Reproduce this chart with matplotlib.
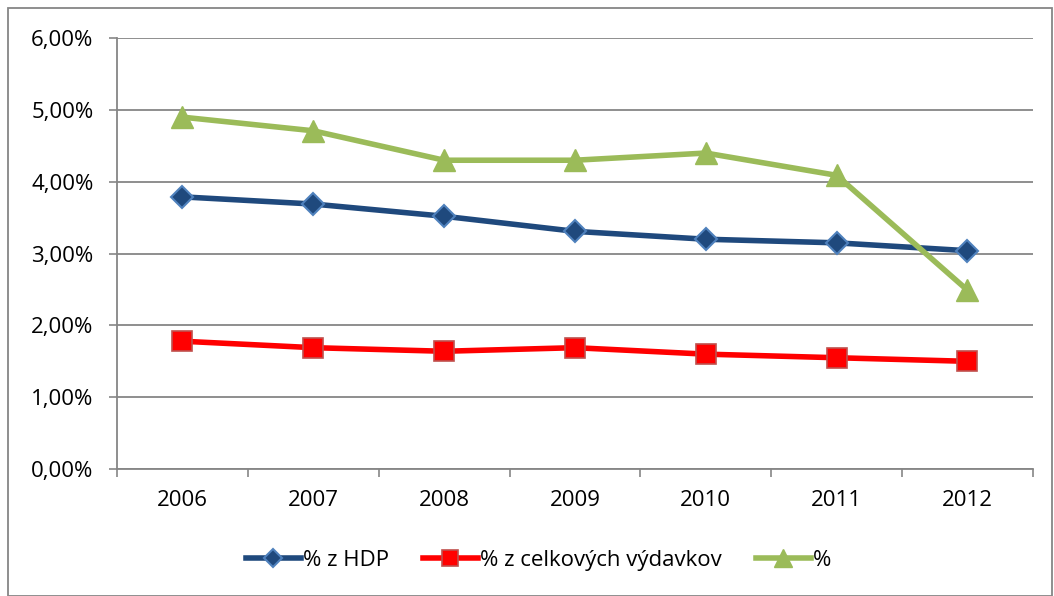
import matplotlib
matplotlib.use("Agg")
import matplotlib.pyplot as plt
from matplotlib.ticker import FuncFormatter, FixedLocator
import matplotlib.patches as mpatches

years = ["2006", "2007", "2008", "2009", "2010", "2011", "2012"]
hdp = [3.79, 3.69, 3.52, 3.31, 3.20, 3.15, 3.04]
vydavky = [1.78, 1.69, 1.64, 1.69, 1.60, 1.55, 1.50]
pct = [4.90, 4.71, 4.30, 4.30, 4.40, 4.09, 2.49]

plt.rcParams["font.family"] = ["Open Sans", "DejaVu Sans"]
FS = 16

fig = plt.figure(figsize=(10.54, 5.96), dpi=100)
ax = fig.add_axes([0.111, 0.213, 0.869, 0.723])

x = list(range(len(years)))
ax.plot(x, hdp, color="#1F497D", lw=4, marker="D", ms=11, mfc="#1F497D",
        mec="#4F81BD", mew=1.5, label="% z HDP", zorder=3)
ax.plot(x, vydavky, color="#FF0000", lw=4, marker="s", ms=15, mfc="#FF0000",
        mec="#C0504D", mew=1.2, label="% z celkových výdavkov", zorder=3)
ax.plot(x, pct, color="#9BBB59", lw=4, marker="^", ms=16, mfc="#9BBB59",
        mec="#9BBB59", label="%", zorder=3)

ax.set_xlim(-0.5, len(years) - 0.5)
ax.set_ylim(0, 6)
ax.set_yticks(range(0, 7))
ax.yaxis.set_major_formatter(FuncFormatter(lambda v, p: f"{v:.2f}%".replace(".", ",")))
ax.xaxis.set_major_locator(FixedLocator([i - 0.5 for i in range(len(years) + 1)]))
ax.xaxis.set_minor_locator(FixedLocator(x))
ax.set_xticklabels([])
ax.set_xticklabels(years, minor=True)
ax.tick_params(axis="x", which="major", length=6, color="#868686", width=1.2)
ax.tick_params(axis="x", which="minor", length=0, labelsize=FS, pad=15)
ax.tick_params(axis="y", length=6, color="#868686", width=1.2, labelsize=FS, pad=11)
ax.grid(axis="y", color="#868686", lw=1.3)
ax.set_axisbelow(True)
for s in ["top", "right"]:
    ax.spines[s].set_visible(False)
for s in ["left", "bottom"]:
    ax.spines[s].set_color("#868686")
    ax.spines[s].set_linewidth(1.3)

fig.legend(loc="center", bbox_to_anchor=(0.511, 0.06), ncol=3, frameon=False,
           fontsize=FS, handlelength=2.5, handletextpad=0.1, columnspacing=1.5,
           markerscale=0.8)

fig.patches.append(mpatches.Rectangle((0.008, 0.0), 0.99, 0.986, transform=fig.transFigure,
                                      fill=False, edgecolor="#868686", lw=1.3))

fig.savefig("out.png", dpi=100)
